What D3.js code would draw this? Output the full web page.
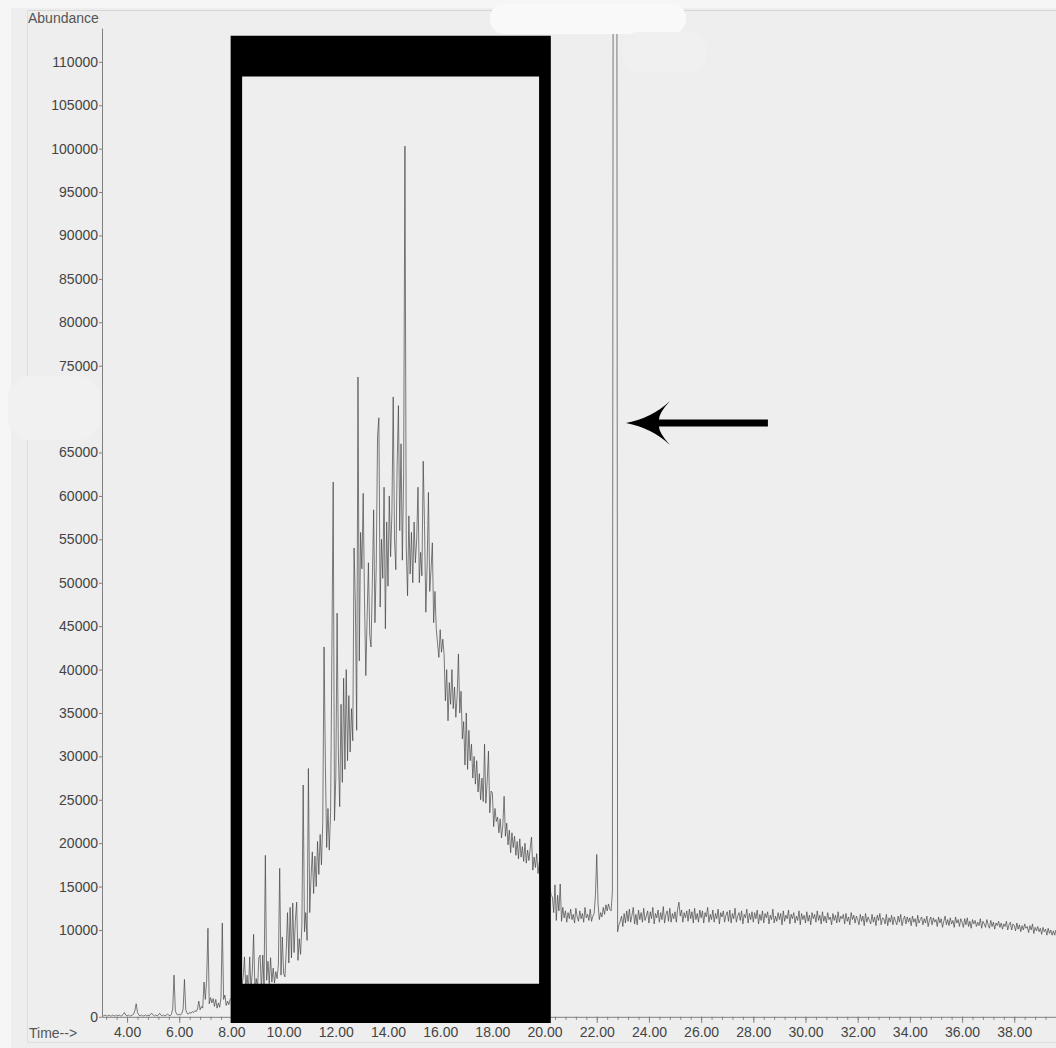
<!DOCTYPE html>
<html>
<head>
<meta charset="utf-8">
<script src="https://cdn.jsdelivr.net/npm/d3@7"></script>
<style>
  html, body { margin: 0; padding: 0; background: #eeeeee; }
  svg { display: block; }
  text { font-family: "Liberation Sans", Arial, sans-serif; }
</style>
</head>
<body>
<svg id="chart" width="1056" height="1048"></svg>
<script>
// Total ion chromatogram: abundance (thousands of counts) sampled every 0.05 min from 3.00 min
const traceStart = 3.0;
const traceStep = 0.05;

// 3.00 – 7.95 min (one row = 0.5 min)
const traceEarly = [
  0.1,0.1,0.1,0.2,0.1,0.1,0.2,0.1,0.1,0.2,
  0.1,0.1,0.2,0.1,0.2,0.1,0.1,0.3,0.5,0.2,
  0.1,0.2,0.1,0.1,0.2,0.3,0.7,1.5,0.5,0.2,
  0.1,0.2,0.1,0.1,0.2,0.1,0.2,0.1,0.3,0.4,
  0.2,0.1,0.2,0.1,0.2,0.4,0.2,0.1,0.2,0.1,
  0.2,0.3,0.2,0.1,0.3,0.9,4.8,0.7,0.3,0.2,
  0.3,0.2,0.4,0.9,4.3,0.8,0.4,0.3,0.5,0.4,
  0.6,0.5,0.7,0.6,0.9,1.8,0.8,1.2,1.0,4.0,
  2.0,4.2,10.2,1.5,2.2,1.6,2.1,1.2,2.0,1.0,
  1.6,1.1,2.2,10.8,2.0,2.5,1.3,1.8,1.4,2.0
];

// 8.00 – 12.95 min
const traceRise = [
  2.2,1.8,2.6,2.0,2.4,3.0,2.2,2.8,3.4,4.6,
  6.9,3.2,4.8,2.9,6.9,3.1,5.2,9.5,3.0,4.4,
  3.3,6.8,7.1,3.0,7.1,3.6,18.6,4.2,6.4,3.8,
  6.8,4.0,5.6,3.9,5.2,4.4,6.0,17.1,4.8,9.2,
  5.0,4.6,7.5,12.0,6.2,12.6,6.8,13.1,7.4,11.1,
  13.2,6.5,9.0,7.2,10.5,26.7,9.8,12.0,8.8,28.6,
  12.0,16.0,19.0,14.2,18.5,15.0,20.2,16.4,21.0,17.5,
  22.4,42.6,29.2,19.5,24.0,19.2,23.5,42.0,61.6,22.6,
  27.5,46.5,30.0,24.2,36.0,27.0,39.0,28.5,40.0,29.5,
  37.0,30.5,35.5,31.8,54.0,47.6,33.0,73.7,41.0,55.8
];

// 13.00 – 17.95 min
const traceCrest = [
  51.6,60.3,48.0,39.3,46.0,52.3,44.0,42.6,50.0,58.4,
  45.4,52.0,66.9,69.0,47.2,55.0,50.5,61.0,44.7,57.0,
  49.6,60.0,53.0,58.0,71.4,55.0,51.5,63.4,70.4,56.0,
  66.0,52.6,62.6,100.3,54.0,48.5,57.7,51.0,55.8,50.0,
  57.0,52.3,55.0,61.0,50.0,53.5,50.8,64.0,56.6,46.6,
  52.0,60.4,49.0,51.5,54.6,45.4,49.0,44.7,43.0,41.4,
  44.6,42.0,43.5,41.7,36.4,40.0,34.1,38.5,36.0,40.0,
  35.5,38.0,34.5,37.0,41.8,35.0,37.5,32.0,34.0,29.0,
  35.0,28.5,33.0,29.5,31.4,27.5,30.0,26.8,29.5,25.9,
  28.0,25.0,27.5,24.8,31.4,24.6,27.0,30.6,23.5,26.0
];

// 18.00 – 22.95 min (sharp peak near 22.7 min runs off scale)
const traceFall = [
  25.8,21.9,24.0,22.5,23.0,21.2,22.8,20.6,22.0,25.4,
  20.8,22.3,19.8,21.5,18.9,21.2,19.5,20.8,18.6,20.2,
  18.2,20.5,18.4,19.6,17.9,20.0,17.7,19.2,18.0,19.4,
  20.7,16.9,18.4,17.2,18.8,16.5,17.8,16.0,17.2,15.6,
  16.4,15.2,15.8,14.6,15.0,14.0,13.8,12.0,15.2,11.1,
  14.0,12.2,15.3,11.0,12.6,11.4,12.2,10.9,12.0,11.3,
  12.4,11.2,11.8,10.8,12.5,11.5,11.0,12.2,11.3,11.9,
  10.9,12.6,11.4,11.8,11.1,12.4,11.0,11.6,11.9,14.0,
  18.7,13.0,11.2,12.0,11.5,12.6,11.8,12.9,12.2,13.0,
  12.4,12.2,14.4,200.0,200.0,200.0,9.8,10.6,11.0,11.6
];

// 23.00 – 39.95 min baseline
const traceTail = [
  10.4,11.9,10.8,12.2,11.0,12.4,10.9,11.7,12.6,10.7,
  11.8,10.6,12.3,11.2,12.0,10.9,12.5,11.1,11.6,12.2,
  10.8,12.1,11.3,12.6,10.7,11.9,11.4,12.3,10.9,12.0,
  11.2,12.7,10.8,11.8,12.2,11.0,12.5,10.9,11.9,11.3,
  12.1,10.9,12.4,13.2,11.6,12.3,10.9,12.0,11.4,12.2,
  11.0,12.4,11.3,12.1,10.8,12.5,11.2,11.9,10.9,12.3,
  11.4,12.2,10.8,12.0,11.5,12.6,10.9,11.8,11.2,12.3,
  10.9,11.9,11.3,12.4,10.7,12.0,11.5,12.2,10.9,11.7,
  12.1,11.0,12.3,10.8,11.9,11.3,12.5,10.9,11.6,12.0,
  11.1,12.2,10.7,11.8,11.4,12.4,10.8,11.9,11.2,12.1,
  10.9,12.0,11.3,12.3,10.7,11.8,11.1,12.2,10.8,11.9,
  11.4,12.1,10.7,11.7,11.2,12.4,10.8,11.6,11.0,12.0,
  11.2,11.9,10.6,12.2,11.0,11.7,11.3,12.3,10.7,11.8,
  11.3,12.0,10.8,11.6,11.1,12.2,10.6,11.9,11.2,11.7,
  10.8,12.1,11.0,11.7,10.6,12.0,11.3,11.8,10.9,12.2,
  11.1,11.7,10.7,12.1,11.0,11.6,10.8,12.0,11.2,11.5,
  10.6,11.9,11.1,11.7,10.8,12.1,10.9,11.6,11.3,11.8,
  10.7,11.9,11.0,11.5,10.6,12.0,11.2,11.7,10.8,11.6,
  11.2,10.6,11.8,11.0,11.6,10.5,11.9,10.9,11.5,11.1,
  10.7,11.8,10.9,11.5,10.5,11.7,11.1,11.9,10.6,11.4,
  11.3,10.7,11.8,10.5,11.4,10.9,11.7,10.6,11.5,11.0,
  10.6,11.6,10.9,11.8,10.5,11.2,11.6,10.7,11.5,10.9,
  11.4,10.5,11.6,10.9,11.3,10.4,11.7,10.8,11.2,11.5,
  10.6,11.3,10.8,11.6,10.4,11.1,11.5,10.6,11.4,10.9,
  11.2,10.4,11.5,10.8,11.3,10.3,11.0,11.6,10.6,11.2,
  10.5,11.4,10.7,11.1,10.3,11.5,10.8,11.2,10.4,11.3,
  10.9,10.3,11.3,10.6,11.4,10.4,11.0,10.2,11.2,10.7,
  11.1,10.4,10.9,10.5,11.3,10.2,11.0,10.7,10.3,11.2,
  10.6,10.2,11.1,10.4,10.9,10.1,10.8,10.5,11.0,10.3,
  10.8,10.1,10.7,10.4,11.0,10.0,10.6,10.9,10.0,10.7,
  10.5,9.9,10.8,10.1,10.6,9.8,10.5,10.0,10.7,10.2,
  10.4,9.7,10.5,10.0,10.7,9.6,10.3,9.9,10.4,9.8,
  10.2,9.5,10.3,9.8,10.1,9.4,10.2,9.6,10.0,9.4,
  9.9,9.4,10.0,9.5,9.8,9.3,9.9,9.5,9.7,9.4
];

// Axis ticks
const yTickValues = [0, 10000, 15000, 20000, 25000, 30000, 35000, 40000, 45000, 50000,
  55000, 60000, 65000, 75000, 80000, 85000, 90000, 95000, 100000, 105000, 110000];
const xTickValues = [4, 6, 8, 10, 12, 14, 16, 18, 20, 22, 24, 26, 28, 30, 32, 34, 36, 38];

// Highlight frame around the unresolved hump: [time, abundance] corners
const frameOuter = [[7.97, 113000], [20.24, -700]];
const frameInner = [[8.41, 108300], [19.79, 3800]];

// Arrow pointing at the sharp peak: tail and tip as [time, abundance]
const arrowTail = [28.56, 68400];
const arrowTip = [23.12, 68400];

const width = 1056, height = 1048;
const plot = { left: 102, right: 1056, top: 28, bottom: 1016.8 };

const x = d3.scaleLinear().domain([3.04, 39.6]).range([plot.left, plot.right]);
const y = d3.scaleLinear().domain([0, 113900]).range([plot.bottom, plot.top]);

const svg = d3.select("#chart");

// Paper: lighter scanner margins and faint frame lines
svg.append("rect").attr("width", width).attr("height", height).attr("fill", "#eeeeee");
svg.append("rect").attr("x", 0).attr("y", 0).attr("width", 11).attr("height", height).attr("fill", "#f6f6f6");
svg.append("rect").attr("x", 0).attr("y", 0).attr("width", width).attr("height", 8).attr("fill", "#f6f6f6");
svg.append("line").attr("x1", 27).attr("x2", width).attr("y1", 10.5).attr("y2", 10.5)
  .attr("stroke", "#d6d6d6").attr("stroke-width", 1);
svg.append("line").attr("x1", 27.5).attr("x2", 27.5).attr("y1", 10).attr("y2", 1042)
  .attr("stroke", "#dedede").attr("stroke-width", 1);
svg.append("line").attr("x1", 27).attr("x2", width).attr("y1", 1042.5).attr("y2", 1042.5)
  .attr("stroke", "#e0e0e0").attr("stroke-width", 1);

// Trace data points
const values = [].concat(traceEarly, traceRise, traceCrest, traceFall, traceTail);
const points = values.map((v, i) => [traceStart + i * traceStep, v * 1000]);

svg.append("clipPath").attr("id", "plotClip")
  .append("rect")
  .attr("x", plot.left).attr("y", plot.top + 5)
  .attr("width", plot.right - plot.left).attr("height", plot.bottom - plot.top - 5);

const line = d3.line().x(d => x(d[0])).y(d => y(d[1]));

svg.append("path")
  .datum(points)
  .attr("clip-path", "url(#plotClip)")
  .attr("fill", "none")
  .attr("stroke", "#404040")
  .attr("stroke-opacity", 0.85)
  .attr("stroke-width", 0.8)
  .attr("d", line);

// Y axis
const yAxis = svg.append("g")
  .attr("transform", `translate(${plot.left},0)`)
  .call(d3.axisLeft(y).tickValues(yTickValues).tickSize(3).tickSizeOuter(0).tickPadding(1)
    .tickFormat(d3.format("d")));
yAxis.select(".domain").attr("stroke", "#808080");
yAxis.selectAll(".tick line").attr("stroke", "#808080");
yAxis.selectAll("text").attr("fill", "#444").style("font-size", "14px");

// X axis: minor ticks every 0.4 min, labelled major ticks every 2 min
const minorTicks = d3.range(8, 100).map(k => k * 0.4);
const xMinor = svg.append("g")
  .attr("transform", `translate(0,${plot.bottom})`)
  .call(d3.axisBottom(x).tickValues(minorTicks.filter(t => t <= 39.6)).tickSize(3).tickSizeOuter(0)
    .tickFormat(""));
xMinor.select(".domain").attr("stroke", "#808080");
xMinor.selectAll(".tick line").attr("stroke", "#808080");

const xAxis = svg.append("g")
  .attr("transform", `translate(0,${plot.bottom})`)
  .call(d3.axisBottom(x).tickValues(xTickValues).tickSize(6).tickSizeOuter(0).tickPadding(4)
    .tickFormat(d3.format(".2f")));
xAxis.select(".domain").remove();
xAxis.selectAll(".tick line").attr("stroke", "#808080");
xAxis.selectAll("text").attr("fill", "#444").style("font-size", "14px");

// Axis titles
svg.append("text").attr("x", 28).attr("y", 23)
  .attr("fill", "#555").style("font-size", "14px").text("Abundance");
svg.append("text").attr("x", 29).attr("y", 1037.5)
  .attr("fill", "#555").style("font-size", "14px").text("Time-->");

// Erased patches on the printout
svg.append("rect").attr("x", 490).attr("y", 4).attr("width", 196).attr("height", 30).attr("rx", 14)
  .attr("fill", "#f9f9f9");
svg.append("rect").attr("x", 622).attr("y", 32).attr("width", 84).attr("height", 40).attr("rx", 16)
  .attr("fill", "#f0f0f0");
svg.append("rect").attr("x", 8).attr("y", 376).attr("width", 92).attr("height", 64).attr("rx", 22)
  .attr("fill", "#f1f1f1");

// Black highlight frame
const fx0 = x(frameOuter[0][0]), fx1 = x(frameOuter[1][0]);
const fy0 = y(frameOuter[0][1]), fy1 = y(frameOuter[1][1]);
const ix0 = x(frameInner[0][0]), ix1 = x(frameInner[1][0]);
const iy0 = y(frameInner[0][1]), iy1 = y(frameInner[1][1]);
const framePath = d3.path();
framePath.rect(fx0, fy0, fx1 - fx0, fy1 - fy0);
framePath.rect(ix0, iy0, ix1 - ix0, iy1 - iy0);
svg.append("path").attr("d", framePath.toString()).attr("fill", "#000").attr("fill-rule", "evenodd");

// Arrow
const tipX = x(arrowTip[0]), tipY = y(arrowTip[1]);
const tailX = x(arrowTail[0]);
svg.append("line")
  .attr("x1", tipX + 30).attr("x2", tailX)
  .attr("y1", tipY).attr("y2", tipY)
  .attr("stroke", "#000").attr("stroke-width", 7);
svg.append("path")
  .attr("transform", `translate(${tipX},${tipY})`)
  .attr("d", "M0,0 Q26,-5 44,-22 Q33,-10 33,-3.5 L33,3.5 Q33,10 44,22 Q26,5 0,0 Z")
  .attr("fill", "#000");
</script>
</body>
</html>
